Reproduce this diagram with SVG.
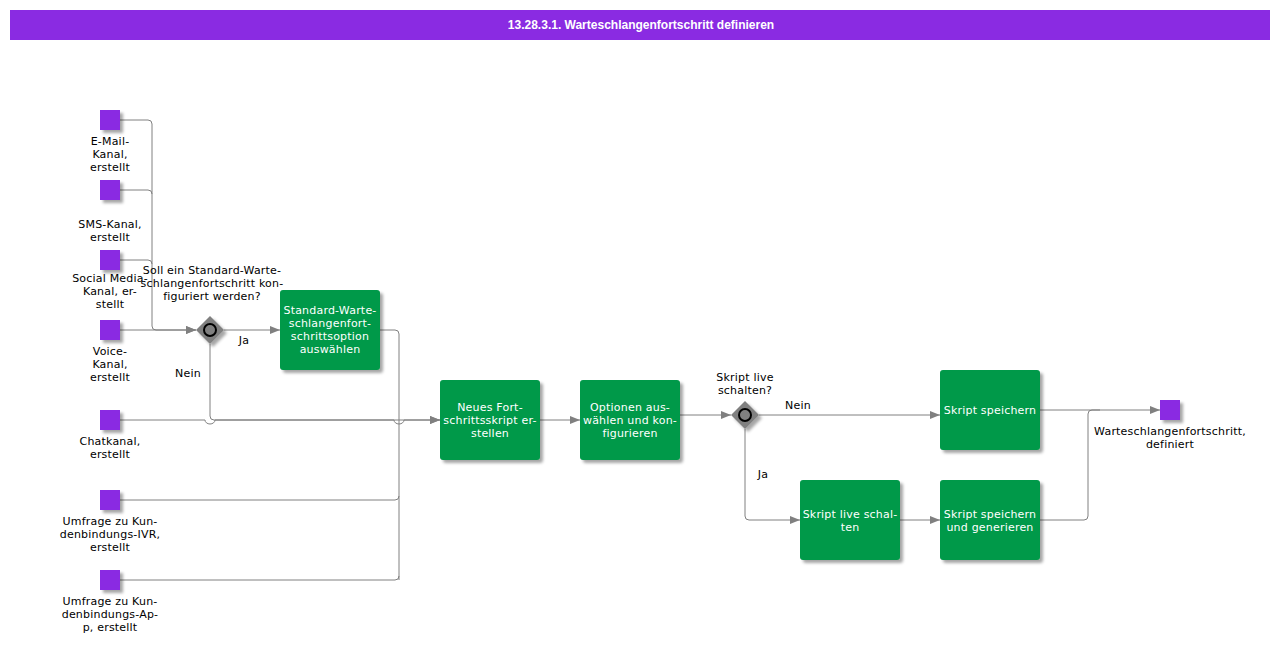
<svg xmlns="http://www.w3.org/2000/svg" width="1280" height="645" viewBox="0 0 1280 645">
<defs>
<filter id="sh" x="-20%" y="-20%" width="150%" height="150%">
<feDropShadow dx="3" dy="3" stdDeviation="1.5" flood-color="#000" flood-opacity="0.35"/>
</filter>
<marker id="arr" markerWidth="10" markerHeight="8" refX="10" refY="4" orient="auto" markerUnits="userSpaceOnUse">
<path d="M0,0 L10,4 L0,8 Z" fill="#808080"/>
</marker>
<style>
.ev{fill:#8a2be2;filter:url(#sh)}
.task{fill:#00994a;filter:url(#sh)}
.gw{fill:#808080;filter:url(#sh)}
.gc{fill:#808080;stroke:#000;stroke-width:2}
.lbl{font-family:"DejaVu Sans",Verdana,sans-serif;font-size:11px;letter-spacing:0.2px;fill:#000;text-anchor:middle}
.tt{font-family:"DejaVu Sans",Verdana,sans-serif;font-size:11px;letter-spacing:0.2px;fill:#fff;text-anchor:middle}
.cn{fill:none;stroke:#808080;stroke-width:1}
.title{font-family:"Liberation Sans",Arial,sans-serif;font-size:12px;font-weight:bold;fill:#fff;text-anchor:middle}
</style>
</defs>
<rect width="1280" height="645" fill="#fff"/>
<g id="header">
<rect x="10" y="10" width="1260" height="30" fill="#8a2be2"/>
<text class="title" x="641" y="29">13.28.3.1. Warteschlangenfortschritt definieren</text>
</g>
<g id="connectors">
<path class="cn" d="M120,120 H148 q4,0 4,4 V326 q0,4 4,4 H196" marker-end="url(#arr)"/>
<path class="cn" d="M120,190 H148 q4,0 4,4"/>
<path class="cn" d="M120,260 H148 q4,0 4,4"/>
<path class="cn" d="M120,330 H196" marker-end="url(#arr)"/>
<path class="cn" d="M224,330 H280" marker-end="url(#arr)"/>
<path class="cn" d="M210,344 V416 q0,4 4,4 H440" marker-end="url(#arr)"/>
<path class="cn" d="M120,420 H205 a5,4 0 0 0 10,0 H394 a5,4 0 0 0 10,0 H440" marker-end="url(#arr)"/>
<path class="cn" d="M380,330 H395 q4,0 4,4 V580"/>
<path class="cn" d="M120,500 H395 q4,0 4,-4"/>
<path class="cn" d="M120,580 H395 q4,0 4,-4"/>
<path class="cn" d="M540,420 H580" marker-end="url(#arr)"/>
<path class="cn" d="M680,415 H731" marker-end="url(#arr)"/>
<path class="cn" d="M759,415 H940" marker-end="url(#arr)"/>
<path class="cn" d="M745,429 V516 q0,4 4,4 H800" marker-end="url(#arr)"/>
<path class="cn" d="M900,520 H940" marker-end="url(#arr)"/>
<path class="cn" d="M1040,410 H1160" marker-end="url(#arr)"/>
<path class="cn" d="M1040,520 H1084 q4,0 4,-4 V414 q0,-4 4,-4 H1100"/>
<text class="lbl" x="244" y="344">Ja</text>
<text class="lbl" x="188" y="377">Nein</text>
<text class="lbl" x="798" y="409">Nein</text>
<text class="lbl" x="763" y="478">Ja</text>
</g>
<g id="ev-email">
<rect class="ev" x="100" y="110" width="20" height="20"/>
<text class="lbl" x="110" y="145">E-Mail-</text>
<text class="lbl" x="110" y="158">Kanal,</text>
<text class="lbl" x="110" y="171">erstellt</text>
</g>
<g id="ev-sms">
<rect class="ev" x="100" y="180" width="20" height="20"/>
<text class="lbl" x="110" y="228">SMS-Kanal,</text>
<text class="lbl" x="110" y="241">erstellt</text>
</g>
<g id="ev-social">
<rect class="ev" x="100" y="250" width="20" height="20"/>
<text class="lbl" x="110" y="282">Social Media-</text>
<text class="lbl" x="110" y="295">Kanal, er-</text>
<text class="lbl" x="110" y="308">stellt</text>
</g>
<g id="ev-voice">
<rect class="ev" x="100" y="320" width="20" height="20"/>
<text class="lbl" x="110" y="355">Voice-</text>
<text class="lbl" x="110" y="368">Kanal,</text>
<text class="lbl" x="110" y="381">erstellt</text>
</g>
<g id="ev-chat">
<rect class="ev" x="100" y="410" width="20" height="20"/>
<text class="lbl" x="110" y="445">Chatkanal,</text>
<text class="lbl" x="110" y="458">erstellt</text>
</g>
<g id="ev-ivr">
<rect class="ev" x="100" y="490" width="20" height="20"/>
<text class="lbl" x="110" y="525">Umfrage zu Kun-</text>
<text class="lbl" x="110" y="538">denbindungs-IVR,</text>
<text class="lbl" x="110" y="551">erstellt</text>
</g>
<g id="ev-app">
<rect class="ev" x="100" y="570" width="20" height="20"/>
<text class="lbl" x="110" y="605">Umfrage zu Kun-</text>
<text class="lbl" x="110" y="618">denbindungs-Ap-</text>
<text class="lbl" x="110" y="631">p, erstellt</text>
</g>
<g id="gw1">
<path class="gw" d="M210,316 L224,330 L210,344 L196,330 Z"/>
<circle class="gc" cx="210" cy="330" r="6"/>
<text class="lbl" x="212" y="274">Soll ein Standard-Warte-</text>
<text class="lbl" x="212" y="287">schlangenfortschritt kon-</text>
<text class="lbl" x="212" y="300">figuriert werden?</text>
</g>
<g id="task1">
<rect class="task" x="280" y="290" width="100" height="80" rx="3"/>
<text class="tt" x="330" y="314">Standard-Warte-</text>
<text class="tt" x="330" y="327">schlangenfort-</text>
<text class="tt" x="330" y="340">schrittsoption</text>
<text class="tt" x="330" y="353">auswählen</text>
</g>
<g id="task2">
<rect class="task" x="440" y="380" width="100" height="80" rx="3"/>
<text class="tt" x="490" y="411">Neues Fort-</text>
<text class="tt" x="490" y="424">schrittsskript er-</text>
<text class="tt" x="490" y="437">stellen</text>
</g>
<g id="task3">
<rect class="task" x="580" y="380" width="100" height="80" rx="3"/>
<text class="tt" x="630" y="411">Optionen aus-</text>
<text class="tt" x="630" y="424">wählen und kon-</text>
<text class="tt" x="630" y="437">figurieren</text>
</g>
<g id="gw2">
<path class="gw" d="M745,401 L759,415 L745,429 L731,415 Z"/>
<circle class="gc" cx="745" cy="415" r="6"/>
<text class="lbl" x="745" y="381">Skript live</text>
<text class="lbl" x="745" y="394">schalten?</text>
</g>
<g id="task4">
<rect class="task" x="940" y="370" width="100" height="80" rx="3"/>
<text class="tt" x="990" y="414">Skript speichern</text>
</g>
<g id="task5">
<rect class="task" x="800" y="480" width="100" height="80" rx="3"/>
<text class="tt" x="850" y="518">Skript live schal-</text>
<text class="tt" x="850" y="531">ten</text>
</g>
<g id="task6">
<rect class="task" x="940" y="480" width="100" height="80" rx="3"/>
<text class="tt" x="990" y="518">Skript speichern</text>
<text class="tt" x="990" y="531">und generieren</text>
</g>
<g id="ev-end">
<rect class="ev" x="1160" y="400" width="20" height="20"/>
<text class="lbl" x="1170" y="435">Warteschlangenfortschritt,</text>
<text class="lbl" x="1170" y="448">definiert</text>
</g>
</svg>
